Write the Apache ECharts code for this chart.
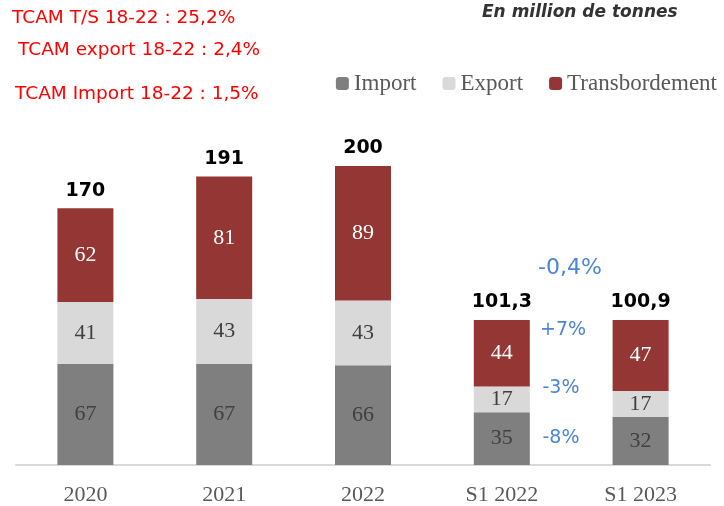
<!DOCTYPE html>
<html><head><meta charset="utf-8">
<script src="https://cdn.jsdelivr.net/npm/echarts@6/dist/echarts.min.js"></script>
<style>html,body{margin:0;padding:0;background:#fff}#c{width:724px;height:506px}</style>
</head><body><div id="c"></div>
<script>
const categories = ['2020', '2021', '2022', 'S1 2022', 'S1 2023'];
const importVals = [67, 67, 66, 35, 32];
const exportVals = [41, 43, 43, 17, 17];
const transVals = [62, 81, 89, 44, 47];
const totalLabels = ['170', '191', '200', '101,3', '100,9'];
const seriesNames = ['Import', 'Export', 'Transbordement'];
const tcamNotes = ['TCAM T/S 18-22 : 25,2%', 'TCAM export 18-22 : 2,4%', 'TCAM Import 18-22 : 1,5%'];
const changeNotes = ['-0,4%', '+7%', '-3%', '-8%'];
const unitNote = 'En million de tonnes';

const serif = '"Liberation Serif", serif';
const sans = '"DejaVu Sans", sans-serif';
const chart = echarts.init(document.getElementById('c'));
const inLabel = (color) => ({show: true, position: 'inside', color: color, fontFamily: serif, fontSize: 22});
chart.setOption({
  animation: false,
  grid: {left: 16, right: 14, top: 163, bottom: 40},
  legend: {
    data: seriesNames, right: 2, top: 67, itemWidth: 13, itemHeight: 13, itemGap: 26,
    textStyle: {fontFamily: serif, fontSize: 23, color: '#595959'}
  },
  xAxis: {
    type: 'category', data: categories,
    axisLine: {lineStyle: {color: '#d9d9d9', width: 2}},
    axisTick: {show: false},
    axisLabel: {fontFamily: serif, fontSize: 22, color: '#595959', margin: 19}
  },
  yAxis: {type: 'value', min: 0, max: 200, show: false, splitLine: {show: false}},
  series: [
    {name: 'Import', type: 'bar', stack: 't', data: importVals, barWidth: 56,
     itemStyle: {color: '#7f7f7f'}, label: inLabel('#404040')},
    {name: 'Export', type: 'bar', stack: 't', data: exportVals,
     itemStyle: {color: '#d9d9d9'}, label: inLabel('#404040')},
    {name: 'Transbordement', type: 'bar', stack: 't', data: transVals,
     itemStyle: {color: '#943634'}, label: inLabel('#ffffff')},
    {name: 'Total', type: 'bar', stack: 't', data: categories.map(() => 0),
     itemStyle: {color: 'transparent'},
     label: {show: true, position: 'top', distance: 8,
       formatter: p => totalLabels[p.dataIndex],
       fontFamily: sans, fontWeight: 'bold', fontSize: 19, color: '#000'}}
  ],
  graphic: [
    {type: 'text', left: 12, top: 9, style: {text: tcamNotes[0], fontFamily: sans, fontSize: 18.5, fill: '#ff0000'}},
    {type: 'text', left: 18, top: 41, style: {text: tcamNotes[1], fontFamily: sans, fontSize: 18.5, fill: '#ff0000'}},
    {type: 'text', left: 15, top: 85, style: {text: tcamNotes[2], fontFamily: sans, fontSize: 18.5, fill: '#ff0000'}},
    {type: 'text', left: 482, top: 4, style: {text: unitNote, fontFamily: sans, fontStyle: 'italic', fontWeight: 'bold', fontSize: 17, fill: '#333333'}},
    {type: 'text', x: 570, y: 268, style: {text: changeNotes[0], align: 'center', verticalAlign: 'middle', fontFamily: sans, fontSize: 22, fill: '#4a86d4'}},
    {type: 'text', x: 563, y: 330, style: {text: changeNotes[1], align: 'center', verticalAlign: 'middle', fontFamily: sans, fontSize: 19, fill: '#4a86d4'}},
    {type: 'text', x: 561, y: 388, style: {text: changeNotes[2], align: 'center', verticalAlign: 'middle', fontFamily: sans, fontSize: 19, fill: '#4a86d4'}},
    {type: 'text', x: 561, y: 438, style: {text: changeNotes[3], align: 'center', verticalAlign: 'middle', fontFamily: sans, fontSize: 19, fill: '#4a86d4'}}
  ]
});
</script></body></html>
